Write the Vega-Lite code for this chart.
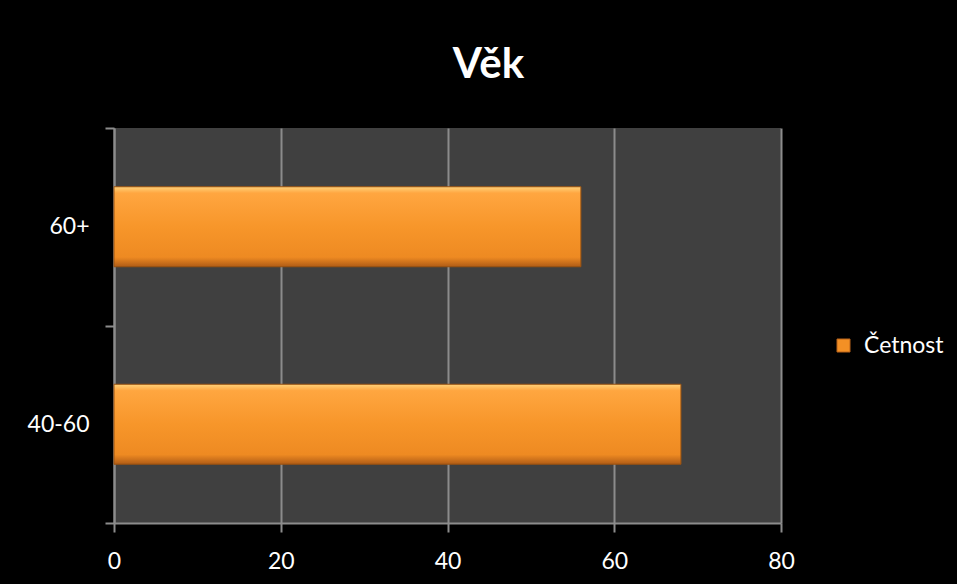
{
  "$schema": "https://vega.github.io/schema/vega-lite/v6.json",
  "width": 667,
  "height": 395,
  "autosize": "none",
  "padding": {"left": 114, "top": 128, "right": 176, "bottom": 61},
  "background": "black",
  "data": {
    "values": [
      {"vek": "40-60", "cetnost": 68, "series": "Četnost"},
      {"vek": "60+", "cetnost": 56, "series": "Četnost"}
    ]
  },
  "title": {
    "text": "Věk",
    "fontSize": 42,
    "fontWeight": "bold",
    "font": "Lato",
    "color": "white",
    "anchor": "middle",
    "offset": 30,
    "dx": 41
  },
  "encoding": {
    "y": {
      "field": "vek",
      "type": "nominal",
      "sort": ["60+", "40-60"],
      "title": null,
      "scale": {"paddingInner": 0, "paddingOuter": 0},
      "axis": {
        "tickBand": "extent",
        "tickSize": 9,
        "tickColor": "#8c8c8c",
        "tickWidth": 2,
        "domainColor": "#8c8c8c",
        "domainWidth": 2,
        "labelPadding": 16,
        "grid": false
      }
    },
    "x": {
      "field": "cetnost",
      "type": "quantitative",
      "title": null,
      "scale": {"domain": [0, 80], "nice": false},
      "axis": {
        "values": [0, 20, 40, 60, 80],
        "labelFlush": false,
        "tickSize": 9,
        "tickColor": "#8c8c8c",
        "tickWidth": 2,
        "domainColor": "#8c8c8c",
        "domainWidth": 2,
        "gridColor": "#8c8c8c",
        "gridWidth": 2,
        "labelPadding": 18
      }
    }
  },
  "layer": [
    {
      "mark": {
        "type": "bar",
        "height": {"band": 0.405},
        "stroke": "#9a5210",
        "strokeWidth": 1,
        "fill": {
          "gradient": "linear",
          "x1": 0, "y1": 0, "x2": 0, "y2": 1,
          "stops": [
            {"offset": 0, "color": "#ffd27a"},
            {"offset": 0.08, "color": "#ffa640"},
            {"offset": 0.5, "color": "#f7962a"},
            {"offset": 0.88, "color": "#ee8a22"},
            {"offset": 1, "color": "#b05c16"}
          ]
        }
      }
    },
    {
      "mark": {"type": "bar", "height": {"band": 0.405}, "opacity": 0},
      "encoding": {
        "color": {
          "field": "series",
          "type": "nominal",
          "scale": {"range": ["#f39025"]},
          "legend": {
            "title": null,
            "orient": "none",
            "legendX": 718,
            "legendY": 206,
            "symbolType": "square",
            "symbolSize": 169,
            "symbolOpacity": 1,
            "symbolStrokeColor": "#b8621a",
            "symbolStrokeWidth": 1,
            "labelFontSize": 23,
            "labelColor": "white",
            "labelFont": "Lato",
            "labelOffset": 9,
            "padding": 0
          }
        }
      }
    }
  ],
  "config": {
    "view": {"fill": "#404040", "stroke": null},
    "axis": {
      "labelColor": "white",
      "labelFontSize": 23,
      "labelFont": "Lato"
    }
  }
}
